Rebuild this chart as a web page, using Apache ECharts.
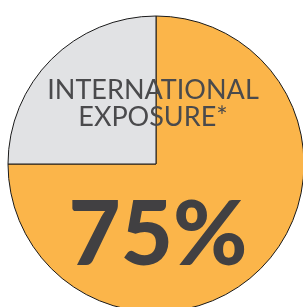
<!DOCTYPE html>
<html>
<head>
<meta charset="utf-8">
<script src="https://cdn.jsdelivr.net/npm/echarts@6/dist/echarts.min.js"></script>
<style>
  html, body { margin: 0; padding: 0; background: #fff; }
  #chart { width: 303px; height: 307px; }
</style>
</head>
<body>
<div id="chart"></div>
<script>
const categories = ['International', 'Domestic']
const values = [75, 25]
const colors = ['#FBB54A', '#E1E2E4']
const titleLines = ['INTERNATIONAL', 'EXPOSURE*']
const bigLabel = '75%'

const chart = echarts.init(document.getElementById('chart'))

chart.setOption({
  animation: false,
  series: [{
    type: 'pie',
    center: [156, 164],
    radius: [0, 148],
    startAngle: 90,
    clockwise: true,
    silent: true,
    label: { show: false },
    labelLine: { show: false },
    itemStyle: { borderColor: '#1a1a1a', borderWidth: 1 },
    data: categories.map((name, i) => ({
      name: name,
      value: values[i],
      itemStyle: { color: colors[i] }
    }))
  }],
  graphic: [
    {
      type: 'text',
      z: 100,
      x: 153,
      y: 104,
      style: {
        text: titleLines[0],
        font: 'normal 27px Lato',
        fill: '#4a4a4c',
        align: 'center',
        verticalAlign: 'bottom'
      }
    },
    {
      type: 'text',
      z: 100,
      x: 153,
      y: 131,
      style: {
        text: titleLines[1],
        font: 'normal 27px Lato',
        fill: '#4a4a4c',
        align: 'center',
        verticalAlign: 'bottom'
      }
    },
    {
      type: 'text',
      z: 100,
      x: 158,
      y: 281,
      style: {
        text: bigLabel,
        font: '900 90px Lato',
        fill: '#414042',
        align: 'center',
        verticalAlign: 'bottom'
      }
    }
  ]
})
</script>
</body>
</html>
